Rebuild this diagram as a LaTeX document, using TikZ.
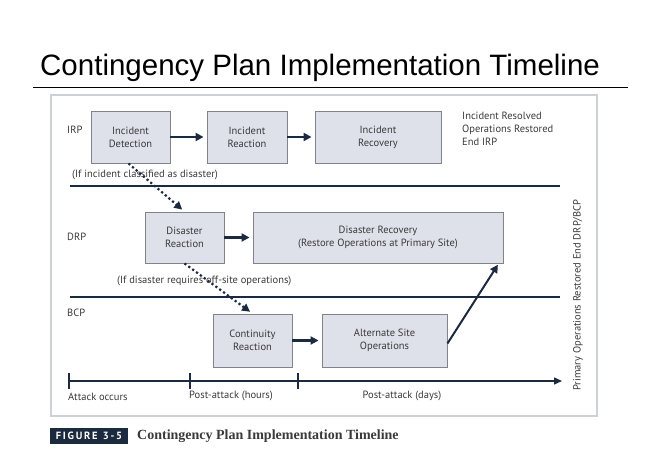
\documentclass[tikz,border=0pt]{standalone}
\usepackage{fontspec}
\setmainfont{Liberation Sans}
\newfontfamily\diag{PT Sans}
\newfontfamily\capser{Liberation Serif}
\usetikzlibrary{arrows.meta,calc}
\definecolor{navy}{HTML}{1C2A3F}
\definecolor{boxfill}{HTML}{DFE1EA}
\definecolor{boxline}{HTML}{808488}
\definecolor{txtgray}{HTML}{3A3A3A}
\definecolor{framegray}{HTML}{CDD1D5}
\begin{document}
\begin{tikzpicture}[x=1pt,y=-1pt,
  box/.style={draw=boxline, fill=boxfill, line width=0.9pt, inner sep=0pt, align=center,
    font=\diag\fontsize{10.5}{13}\selectfont, text=txtgray},
  lbl/.style={font=\diag\fontsize{10.5}{13}\selectfont, text=txtgray, inner sep=0pt},
  flow/.style={draw=navy, line width=2.4pt, -{Triangle[length=8pt,width=8pt]}, shorten >=3pt},
  dots/.style={draw=navy, line width=2.2pt, dash pattern=on 2.2pt off 2.6pt, -{Triangle[length=8pt,width=8pt]}, shorten >=3pt},
  rule/.style={draw=navy, line width=1.5pt}]
\useasboundingbox (0,0) rectangle (665,468);
% title
\node[anchor=base west, inner sep=0pt, font=\fontsize{29.5}{33}\selectfont] (title) at (40,76) {Contingency Plan Implementation Timeline};
\coordinate (tl1) at (33,88); \coordinate (tl2) at (628,88);
\draw[line width=1pt] (tl1) -- (tl2);
% frame
\draw[framegray, line width=1.5pt] (51,95) rectangle (597,416);
% IRP
\node[lbl, anchor=west] (irp) at (67,130) {IRP};
\node[box, minimum width=79pt, minimum height=52pt] (det) at (130.5,137) {Incident\\Detection};
\node[box, minimum width=80pt, minimum height=52pt] (ire) at (247,137) {Incident\\Reaction};
\node[box, minimum width=126pt, minimum height=52pt] (irc) at (378,137) {Incident\\Recovery};
\node[lbl, anchor=north west, align=left] (ires) at (462,112) {Incident Resolved\\Operations Restored\\End IRP};
\draw[flow] (det) -- (ire);
\draw[flow] (ire) -- (irc);
\node[lbl, anchor=west] (cond1) at (72,175) {(If incident classified as disaster)};
\coordinate (s1a) at (70,186); \coordinate (s1b) at (560,186);
\draw[rule] (s1a) -- (s1b);
% DRP
\node[lbl, anchor=west] (drp) at (67,237) {DRP};
\node[box, minimum width=79pt, minimum height=51pt] (drea) at (184.5,237.5) {Disaster\\Reaction};
\node[box, minimum width=250pt, minimum height=51pt] (drec) at (378,237.5) {Disaster Recovery\\(Restore Operations at Primary Site)};
\draw[flow] (drea) -- (drec);
\node[lbl, anchor=west] (cond2) at (117,281) {(If disaster requires off-site operations)};
\coordinate (s2a) at (70,297); \coordinate (s2b) at (560,297);
\draw[rule] (s2a) -- (s2b);
% BCP
\node[lbl, anchor=west] (bcp) at (67,313) {BCP};
\node[box, minimum width=79pt, minimum height=53pt] (cont) at (252.5,340.5) {Continuity\\Reaction};
\node[box, minimum width=125pt, minimum height=53pt] (alt) at (384.5,340.5) {Alternate Site\\Operations};
\draw[flow] (cont) -- (alt);
\coordinate (diagend) at (499,263);
\draw[draw=navy, line width=2pt, -{Triangle[length=8pt,width=8pt]}, shorten >=2pt] ([yshift=-3pt]alt.east) -- (diagend);
% dotted
\draw[dots] ([xshift=-2pt]det.south) -- (drea.north);
\draw[dots] (drea.south) -- (cont.north);
% timeline
\coordinate (t0) at (69,381); \coordinate (t3) at (562,381);
\coordinate (t1) at (190,381); \coordinate (t2) at (298,381);
\draw[draw=navy, line width=1.5pt, -{Triangle[length=8pt,width=7pt]}] (t0) -- (t3);
\foreach \p in {t0,t1,t2} \draw[navy, line width=1.5pt] ([yshift=-8pt]\p) -- ([yshift=8pt]\p);
\node[lbl, anchor=west] (a0) at (68,397) {Attack occurs};
\node[lbl, anchor=west] (a1) at (189,396) {Post-attack (hours)};
\node[lbl] (a2) at (402,396) {Post-attack (days)};
\node[lbl, rotate=90] (prim) at (578,295) {Primary Operations Restored End DRP/BCP};
% caption
\node[fill=navy, text=white, inner sep=0pt, minimum width=78pt, minimum height=16pt, font=\diag\bfseries\fontsize{10.5}{12}\selectfont] (fig) at (89,436) {F\,I\,G\,U\,R\,E\ \ 3\,-\,5};
\node[anchor=west, inner sep=0pt, font=\capser\bfseries\fontsize{14}{16}\selectfont, text=txtgray] (cap) at (137,436.5) {Contingency Plan Implementation Timeline};
\end{tikzpicture}
\end{document}
